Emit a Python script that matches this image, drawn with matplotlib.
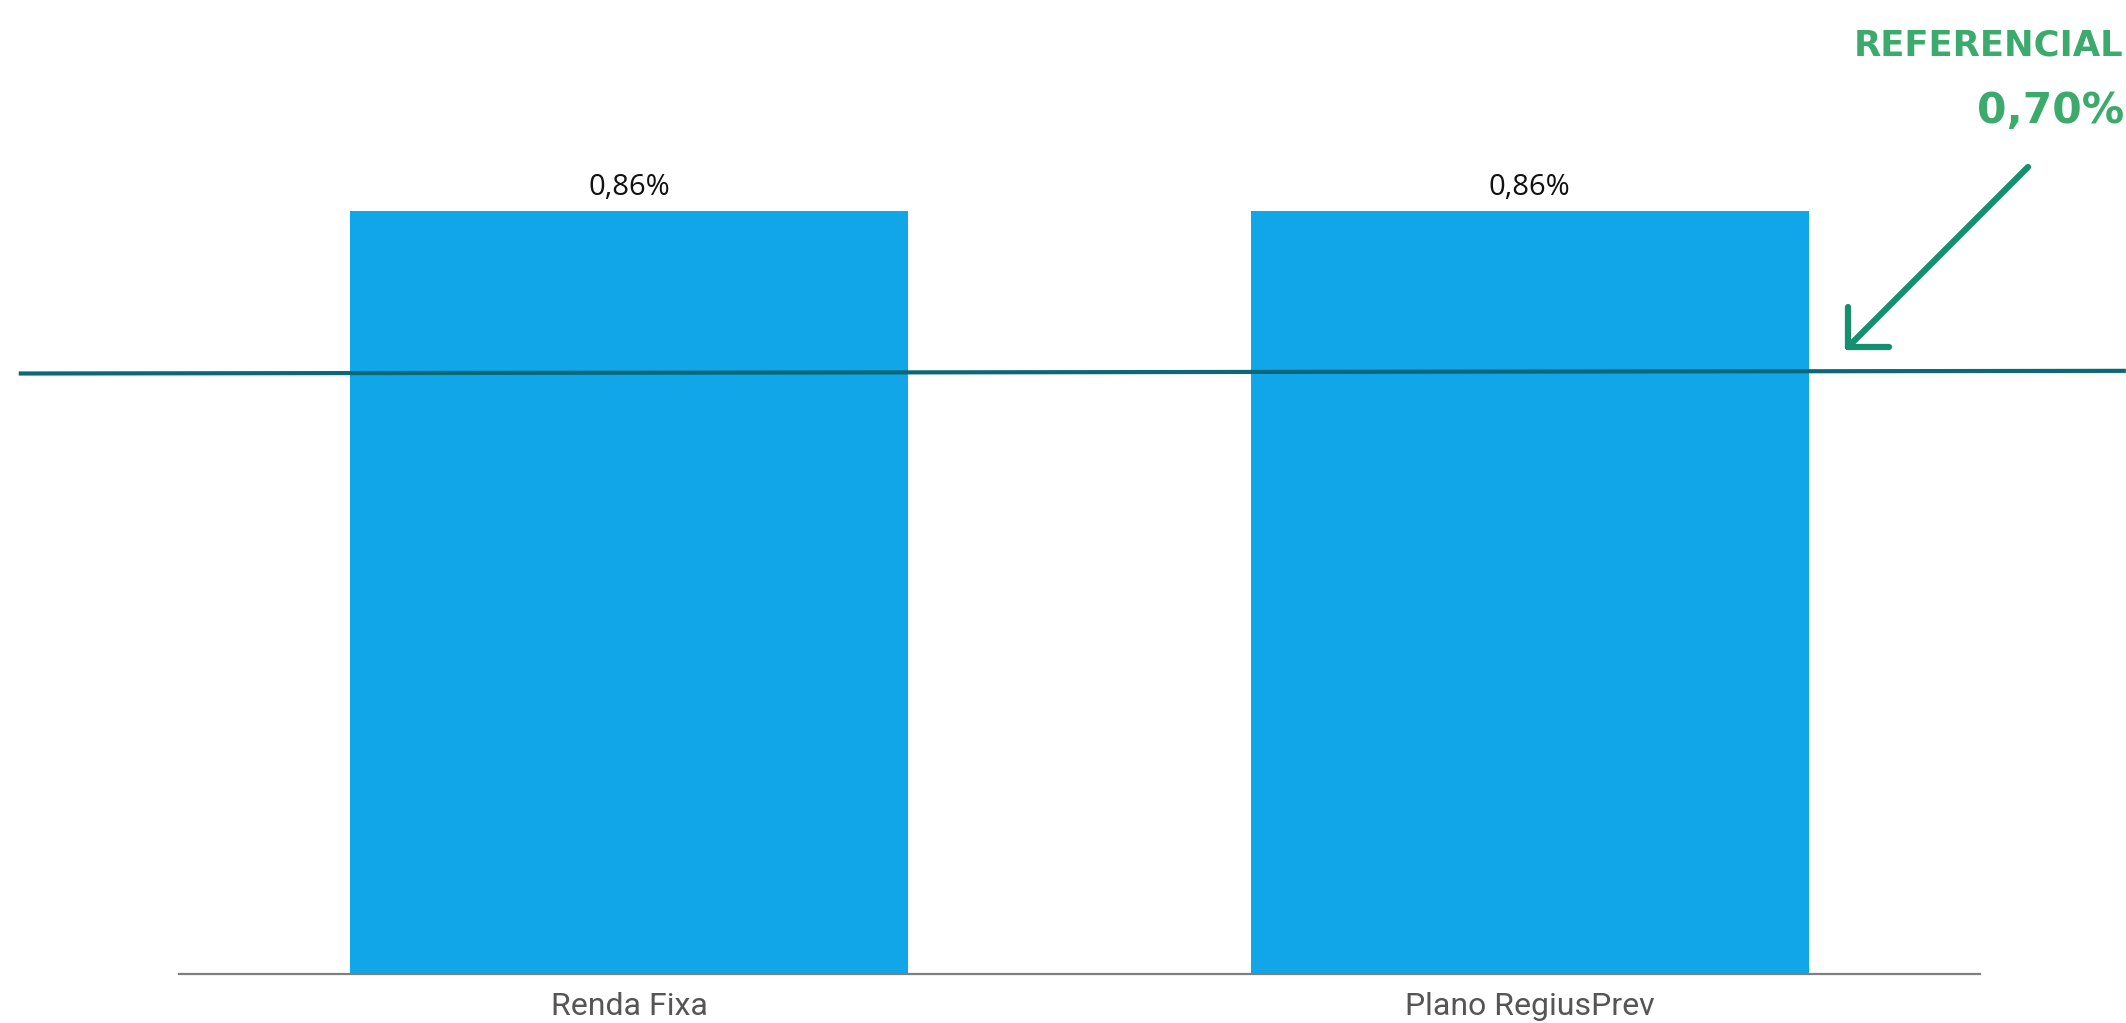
import matplotlib
matplotlib.use("Agg")
import matplotlib.pyplot as plt
from matplotlib.lines import Line2D

# data
categories = ["Renda Fixa", "Plano RegiusPrev"]
values = [0.86, 0.86]
labels = ["0,86%", "0,86%"]
ref_text = "REFERENCIAL"
ref_value_text = "0,70%"
# the drawn reference line sits a little below 0.70 on the bar scale
ref_line_x = [-0.678, 1.662]
ref_line_y = [0.677, 0.680]

W, H = 2126, 1023
fig = plt.figure(figsize=(W / 100, H / 100), dpi=100)
ax = fig.add_axes([179 / W, 49 / H, (1980 - 179) / W, 887 / H])

x = range(len(categories))
ax.bar(x, values, width=0.62, color="#11A6E8", zorder=2)
for xi, v, lab in zip(x, values, labels):
    ax.text(xi, v + 0.01, lab, ha="center", va="bottom",
            fontsize=21, family="Open Sans", color="#111111")

ax.plot(ref_line_x, ref_line_y, color="#0C6878", linewidth=3, clip_on=False,
        solid_capstyle="butt", zorder=3)

ax.set_xlim(-0.5, 1.5)
ax.set_ylim(0, 1.0)
ax.set_xticks(list(x))
ax.set_xticklabels(categories, fontsize=23, family="Roboto", color="#555555")
ax.tick_params(axis="x", length=0, pad=13)
ax.set_yticks([])
for s in ["top", "right", "left"]:
    ax.spines[s].set_visible(False)
ax.spines["bottom"].set_color("#7f7f7f")
ax.spines["bottom"].set_linewidth(1.6)

# annotation in the top right corner
green = "#3CAA6D"
fig.text(2123 / W, 1 - 46 / H, ref_text, ha="right", va="center",
         fontsize=25.5, fontweight="bold", family="DejaVu Sans", color=green)
fig.text(2124 / W, 1 - 111 / H, ref_value_text, ha="right", va="center",
         fontsize=30.5, fontweight="bold", family="DejaVu Sans", color=green)


def px(xp, yp):
    return xp / W, 1 - yp / H


arrow_col = "#158F6E"
tip = (1848, 347)
for start, end in [((2028, 167), tip), ((1848, 307), tip), ((1889, 347), tip)]:
    (x0, y0), (x1, y1) = px(*start), px(*end)
    fig.add_artist(Line2D([x0, x1], [y0, y1], transform=fig.transFigure,
                          color=arrow_col, linewidth=4.5,
                          solid_capstyle="round", solid_joinstyle="round"))

fig.savefig("out.png", dpi=100, facecolor="white")
